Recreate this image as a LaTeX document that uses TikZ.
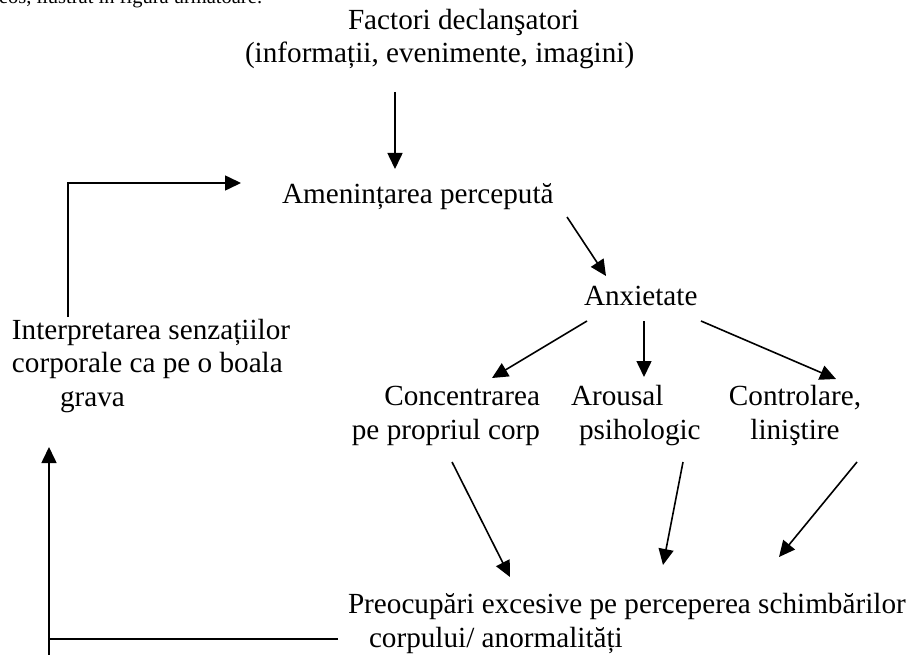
\documentclass[tikz,border=0pt]{standalone}
\usepackage{fontspec}
\setmainfont{Liberation Serif}
\usetikzlibrary{arrows.meta}
\begin{document}
\begin{tikzpicture}[x=1pt,y=-1pt,
  txt/.style={inner sep=0pt,outer sep=0pt,font=\fontsize{29.2}{33.3}\selectfont},
  smalltxt/.style={inner sep=0pt,outer sep=0pt,font=\fontsize{20.5}{24}\selectfont},
  arr/.style={line width=1.6pt,-{Triangle[length=16pt,width=15pt]}},
  ln/.style={line width=1.6pt}]
\useasboundingbox (0,0) rectangle (910,655);
% partially visible line of running text (cut by the top edge)
\node[smalltxt,anchor=base west] (intro) at (-1,4) {eos, ilustrat în figura următoare:};
\node[txt,anchor=base west,align=left] (fact) at (245,63) {\hspace{103pt}Factori declanşatori\\(informații, evenimente, imagini)};
\node[txt,anchor=base west] (amen) at (282,204) {Amenințarea percepută};
\node[txt,anchor=base west] (anx) at (584,305) {Anxietate};
\node[txt,anchor=base east,align=right] (conc) at (540,439) {Concentrarea\\pe propriul corp};
\node[txt,anchor=base west,align=left] (arou) at (571,439) {Arousal\\\hspace{8pt}psihologic};
\node[txt,anchor=base,align=center] (contr) at (795,439) {Controlare,\\liniştire};
\node[txt,anchor=base west,align=left] (interp) at (12,406) {Interpretarea senzațiilor\\corporale ca pe o boala\\\hspace{48pt}grava};
\node[txt,anchor=base west,align=left] (preoc) at (348,647) {Preocupări excesive pe perceperea schimbărilor\\\hspace{21pt}corpului/ anormalități};
% connector end points
\coordinate (f0) at (395,92);   \coordinate (a0) at (395,169);
\coordinate (i0) at (68,317);   \coordinate (ic) at (68,183);  \coordinate (a1) at (241,183);
\coordinate (a2) at (567,217);  \coordinate (x0) at (606,276);
\coordinate (x1) at (587,321);  \coordinate (c0) at (492,378);
\coordinate (x2) at (644,321);  \coordinate (r0) at (644,377);
\coordinate (x3) at (701,321);  \coordinate (k0) at (836,379);
\coordinate (c1) at (452,462);  \coordinate (p1) at (510,577);
\coordinate (r1) at (683,462);  \coordinate (p2) at (663,565);
\coordinate (k1) at (857,462);  \coordinate (p3) at (779,557);
\coordinate (p0) at (338,639);  \coordinate (bc) at (49,639);
\coordinate (b0) at (49,655);   \coordinate (i1) at (49,447);
\draw[arr] (f0) -- (a0);
\draw[arr] (i0) -- (ic) -- (a1);
\draw[arr] (a2) -- (x0);
\draw[arr] (x1) -- (c0);
\draw[arr] (x2) -- (r0);
\draw[arr] (x3) -- (k0);
\draw[arr] (c1) -- (p1);
\draw[arr] (r1) -- (p2);
\draw[arr] (k1) -- (p3);
\draw[ln] (p0) -- (bc);
\draw[arr] (b0) -- (i1);
\end{tikzpicture}
\end{document}
